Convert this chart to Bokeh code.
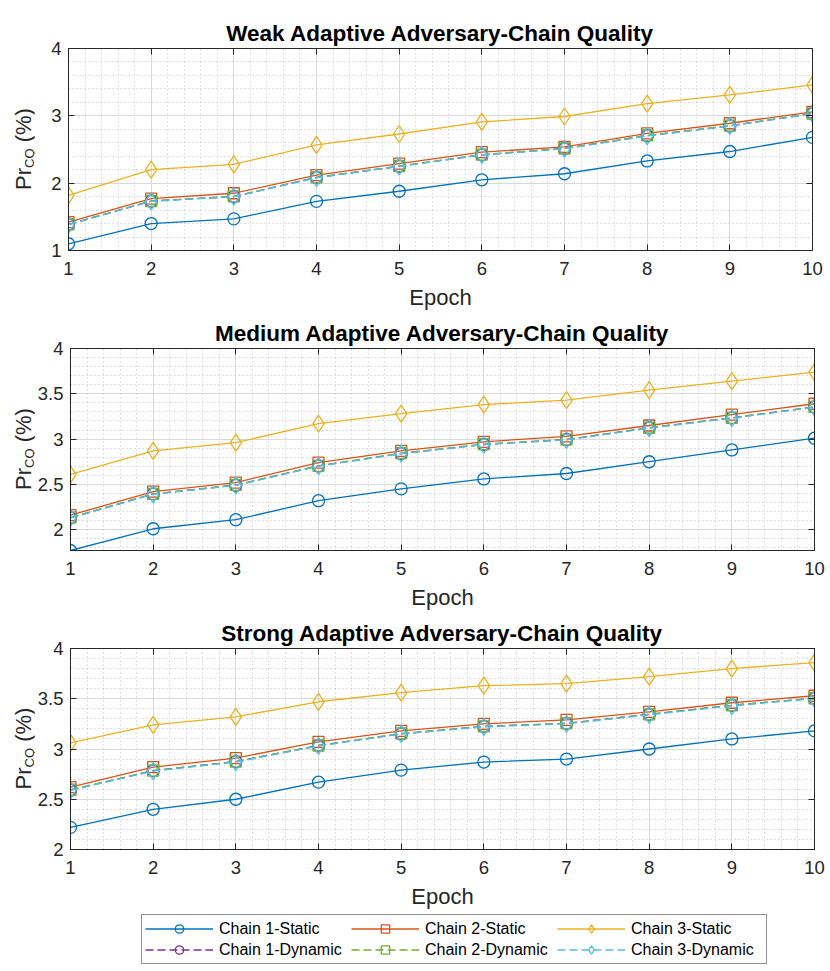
import numpy as np
from bokeh.plotting import figure
from bokeh.models import Range1d, FixedTicker, LinearAxis, Legend, LegendItem, Div
from bokeh.layouts import column, row
from bokeh.embed import file_html
from bokeh.resources import INLINE

# ---------------- data ----------------
epochs = [1, 2, 3, 4, 5, 6, 7, 8, 9, 10]

weak_c1_static = [1.10, 1.40, 1.47, 1.73, 1.88, 2.05, 2.14, 2.33, 2.47, 2.68]
weak_c2_static = [1.42, 1.77, 1.85, 2.12, 2.29, 2.46, 2.54, 2.74, 2.89, 3.06]
weak_c3_static = [1.82, 2.20, 2.28, 2.57, 2.73, 2.91, 2.99, 3.18, 3.31, 3.46]
weak_c1_dynamic = [1.385, 1.735, 1.80, 2.085, 2.25, 2.42, 2.515, 2.705, 2.85, 3.035]
weak_c2_dynamic = [1.39, 1.735, 1.805, 2.085, 2.255, 2.425, 2.515, 2.71, 2.855, 3.035]
weak_c3_dynamic = [1.385, 1.73, 1.80, 2.08, 2.25, 2.42, 2.51, 2.70, 2.85, 3.03]

medium_c1_static = [1.77, 2.01, 2.11, 2.32, 2.45, 2.56, 2.62, 2.75, 2.88, 3.01]
medium_c2_static = [2.16, 2.42, 2.52, 2.74, 2.87, 2.97, 3.03, 3.15, 3.27, 3.39]
medium_c3_static = [2.61, 2.87, 2.96, 3.17, 3.28, 3.38, 3.43, 3.54, 3.64, 3.74]
medium_c1_dynamic = [2.13, 2.395, 2.49, 2.705, 2.84, 2.94, 2.995, 3.125, 3.235, 3.355]
medium_c2_dynamic = [2.135, 2.395, 2.495, 2.705, 2.845, 2.945, 2.995, 3.125, 3.235, 3.355]
medium_c3_dynamic = [2.13, 2.39, 2.49, 2.70, 2.84, 2.94, 2.99, 3.12, 3.23, 3.35]

strong_c1_static = [2.22, 2.40, 2.50, 2.67, 2.79, 2.87, 2.90, 3.00, 3.10, 3.18]
strong_c2_static = [2.62, 2.82, 2.91, 3.07, 3.18, 3.25, 3.29, 3.37, 3.46, 3.53]
strong_c3_static = [3.06, 3.24, 3.32, 3.47, 3.56, 3.63, 3.65, 3.72, 3.80, 3.86]
strong_c1_dynamic = [2.59, 2.785, 2.875, 3.035, 3.15, 3.225, 3.255, 3.345, 3.435, 3.505]
strong_c2_dynamic = [2.595, 2.785, 2.875, 3.035, 3.155, 3.225, 3.255, 3.345, 3.435, 3.505]
strong_c3_dynamic = [2.59, 2.78, 2.87, 3.03, 3.15, 3.22, 3.25, 3.34, 3.43, 3.50]

series_names = ["Chain 1-Static", "Chain 2-Static", "Chain 3-Static",
                "Chain 1-Dynamic", "Chain 2-Dynamic", "Chain 3-Dynamic"]

titles = ["Weak Adaptive Adversary-Chain Quality",
          "Medium Adaptive Adversary-Chain Quality",
          "Strong Adaptive Adversary-Chain Quality"]

x_ticks = [1, 2, 3, 4, 5, 6, 7, 8, 9, 10]
x_tick_labels = ["1", "2", "3", "4", "5", "6", "7", "8", "9", "10"]
weak_y_ticks = [1, 2, 3, 4]
weak_y_tick_labels = ["1", "2", "3", "4"]
medium_y_ticks = [2, 2.5, 3, 3.5, 4]
medium_y_tick_labels = ["2", "2.5", "3", "3.5", "4"]
strong_y_ticks = [2, 2.5, 3, 3.5, 4]
strong_y_tick_labels = ["2", "2.5", "3", "3.5", "4"]

x_label = "Epoch"
y_label_main = "Pr"
y_label_sub = "CQ"
y_label_unit = "(%)"

# ---------------- styles ----------------
FONT = "Liberation Sans"
AX = "#262626"
colors = ["#0072BD", "#D95319", "#EDB120", "#7E2F8E", "#77AC30", "#4DBEEE"]
markers = ["circle", "square", "diamond", "circle", "square", "diamond"]
msizes = [12, 11, 17, 12, 11, 17]
dashes = ["solid", "solid", "solid", "8 4", "8 4", "8 4"]
LW = 1.3
STRIP = 34


def minor_list(lo, hi, step, majors):
    vals = np.round(np.arange(lo, hi + 1e-9, step), 3)
    return [float(v) for v in vals if all(abs(v - m) > 1e-6 for m in majors)]


def style_axis(ax, ticker, overrides, hidden=False):
    ax.ticker = ticker
    ax.axis_line_color = AX
    ax.axis_line_width = 1
    ax.major_tick_line_color = AX
    ax.major_tick_in = 6
    ax.major_tick_out = 0
    ax.minor_tick_in = 0
    ax.minor_tick_out = 0
    if hidden:
        ax.major_label_overrides = {t: "" for t in overrides}
        ax.major_label_text_font_size = "0px"
        ax.major_label_standoff = 0
    else:
        ax.major_label_overrides = overrides
        ax.major_label_text_font = FONT
        ax.major_label_text_font_size = "18.5px"
        ax.major_label_text_color = AX


def blank_fig(w, h, xr, yr):
    f = figure(width=w, height=h, min_border=0, x_range=xr, y_range=yr,
               x_axis_type=None, y_axis_type=None,
               output_backend="svg", toolbar_location=None,
               background_fill_color="white", border_fill_color="white")
    f.outline_line_color = None
    f.grid.visible = False
    return f


def ylabel_div(H, top, frame_h, bottom):
    # rotated (bottom-to-top) label Pr_CQ (%), centred on the frame
    u = bottom + frame_h / 2.0
    html = (
        f'<div style="width:{2*u:.1f}px;height:{STRIP}px;box-sizing:border-box;'
        f'padding-top:13.4px;transform-origin:0 0;'
        f'transform:translate(0px,{H}px) rotate(-90deg);text-align:center;'
        f'white-space:nowrap;font-family:\'{FONT}\';font-size:22px;line-height:22px;'
        f'color:{AX};">{y_label_main}<span style="font-size:13px;position:relative;'
        f'top:3px;">{y_label_sub}</span> {y_label_unit}</div>'
    )
    return Div(text=html, width=STRIP, height=H, margin=0)


def make_panel(title, series, yticks, ylabels, ystart, yend, ymin_step,
               frame_h, top, bottom):
    p = figure(frame_width=744, frame_height=frame_h,
               x_range=Range1d(1, 10), y_range=Range1d(ystart, yend),
               output_backend="svg", toolbar_location=None,
               min_border_left=34, min_border_right=17,
               min_border_top=top, min_border_bottom=bottom,
               background_fill_color="white", border_fill_color="white")
    p.outline_line_color = AX
    p.title.text = title
    p.title.align = "center"
    p.title.text_font = FONT
    p.title.text_font_size = "22.5px"
    p.title.text_font_style = "bold"
    p.title.text_color = "black"
    p.title.standoff = 5

    xt = FixedTicker(ticks=x_ticks, minor_ticks=minor_list(1, 10, 0.2, x_ticks))
    lo = np.floor(ystart * 10) / 10
    yt = FixedTicker(ticks=yticks, minor_ticks=minor_list(lo, yend, ymin_step, yticks))
    xo = dict(zip(x_ticks, x_tick_labels))
    yo = dict(zip(yticks, ylabels))

    style_axis(p.xaxis[0], xt, xo)
    p.xaxis[0].major_label_standoff = 11
    p.xaxis[0].axis_label = x_label
    p.xaxis[0].axis_label_text_font = FONT
    p.xaxis[0].axis_label_text_font_size = "22px"
    p.xaxis[0].axis_label_text_font_style = "normal"
    p.xaxis[0].axis_label_text_color = AX
    p.xaxis[0].axis_label_standoff = 7

    style_axis(p.yaxis[0], yt, yo)
    p.yaxis[0].major_label_standoff = 7

    ta = LinearAxis()
    style_axis(ta, xt, xo, hidden=True)
    p.add_layout(ta, "above")
    ra = LinearAxis()
    style_axis(ra, yt, yo, hidden=True)
    p.add_layout(ra, "right")

    for g, t in ((p.xgrid[0], xt), (p.ygrid[0], yt)):
        g.ticker = t
        g.grid_line_color = "#d9d9d9"
        g.grid_line_width = 1
        g.minor_grid_line_color = "#bdbdbd"
        g.minor_grid_line_dash = "1 3"
        g.minor_grid_line_width = 1

    for i, vals in enumerate(series):
        p.line(epochs, vals, line_color=colors[i], line_width=LW,
               line_dash=dashes[i])
        p.scatter(epochs, vals, marker=markers[i], size=msizes[i],
                  fill_color=None, line_color=colors[i], line_width=LW)

    H = top + frame_h + bottom
    return row(ylabel_div(H, top, frame_h, bottom), p, spacing=0)


r1 = make_panel(titles[0],
                [weak_c1_static, weak_c2_static, weak_c3_static,
                 weak_c1_dynamic, weak_c2_dynamic, weak_c3_dynamic],
                weak_y_ticks, weak_y_tick_labels, 1, 4, 0.2, 202, 48, 64)
r2 = make_panel(titles[1],
                [medium_c1_static, medium_c2_static, medium_c3_static,
                 medium_c1_dynamic, medium_c2_dynamic, medium_c3_dynamic],
                medium_y_ticks, medium_y_tick_labels,
                min(medium_c1_static), 4, 0.1, 202, 34, 64)
r3 = make_panel(titles[2],
                [strong_c1_static, strong_c2_static, strong_c3_static,
                 strong_c1_dynamic, strong_c2_dynamic, strong_c3_dynamic],
                strong_y_ticks, strong_y_tick_labels, 2, 4, 0.1, 201, 34, 64)

# legend strip: same renderer styles, data kept outside the strip's view
leg_fig = blank_fig(829, 57, Range1d(-20, -10), Range1d(0, 1))
strong_series = [strong_c1_static, strong_c2_static, strong_c3_static,
                 strong_c1_dynamic, strong_c2_dynamic, strong_c3_dynamic]
items = []
for i in range(6):
    ln = leg_fig.line(epochs, strong_series[i], line_color=colors[i],
                      line_width=LW, line_dash=dashes[i])
    sc = leg_fig.scatter(epochs, strong_series[i], marker=markers[i], size=msizes[i],
                         fill_color=None, line_color=colors[i], line_width=LW)
    items.append(LegendItem(label=series_names[i], renderers=[ln, sc]))

legend = Legend(items=items, location=(141, 6), orientation="horizontal",
                ncols=3, glyph_width=68, glyph_height=21, spacing=0,
                label_standoff=6, label_width=132, label_height=20,
                label_text_font=FONT, label_text_font_size="16px",
                label_text_color="black", padding=3, margin=0,
                border_line_color=AX, border_line_width=1,
                background_fill_color="white", background_fill_alpha=1)
leg_fig.add_layout(legend)

layout = column(r1, r2, r3, leg_fig, spacing=0)
open("out.html", "w").write(file_html(layout, INLINE))
